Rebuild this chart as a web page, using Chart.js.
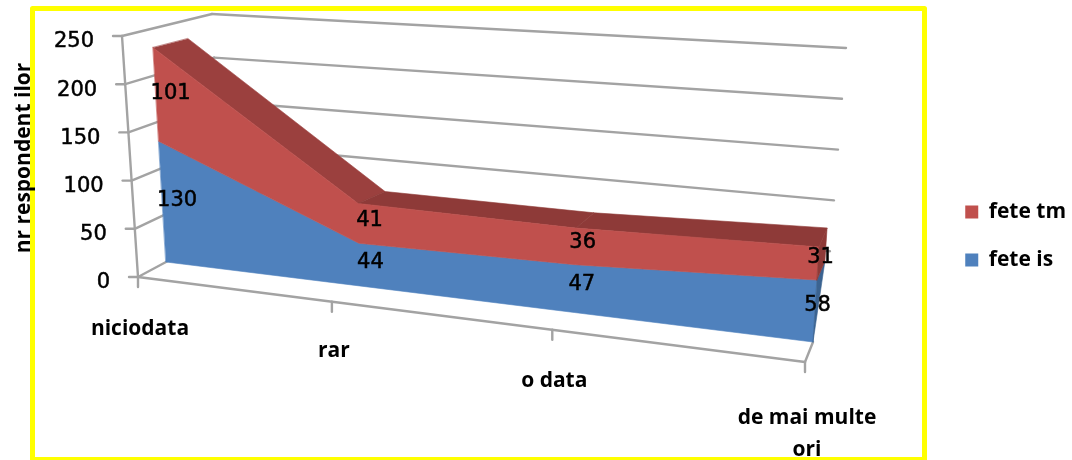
<!DOCTYPE html>
<html>
<head>
<meta charset="utf-8">
<style>
    html, body { margin: 0; padding: 0; background: #fff; }
    #wrap { width: 1072px; height: 460px; position: relative; overflow: hidden; }
    #chart { filter: blur(0.45px); }
</style>
<script src="https://cdn.jsdelivr.net/npm/chart.js@4"></script>
</head>
<body>
<div id="wrap"><canvas id="chart" width="1072" height="460"></canvas></div>
<script>
const categories = ['niciodata', 'rar', 'o data', ['de mai multe', 'ori']];
const feteIs = [130, 44, 47, 58];
const feteTm = [101, 41, 36, 31];
const yTicks = [0, 50, 100, 150, 200, 250];
const yMax = 250;

const FONT = '"DejaVu Sans"';
const BOLD = '"Open Sans"';
const GRID = '#a3a3a3';

// plans of the fake 3D box: floor edge, front of the areas, back of the areas, back wall
// lb/rb = left and right foot, lu/ru = vector for a full axis height, k = perspective
const planes = [
    {lb: [138, 277], rb: [805, 362], lu: [-16, -241], ru: [10, -260], k: 1.22},
    {lb: [166, 262], rb: [813, 342], lu: [-14, -232], ru: [17, -267], k: 1.17},
    {lb: [201, 253], rb: [821, 323], lu: [-14, -232], ru: [17, -267], k: 1.17},
    {lb: [222, 232], rb: [826, 302], lu: [-10, -218], ru: [20, -254], k: 1.17}
];
// distance from the floor tick down to the category label
const labelDrop = [52, 49, 51, 56];

function lerp(a, b, t) {
    return a + (b - a) * t;
}

function onPlane(p, t, v, key) {
    const tp = t / (t + (1 - t) * p.k);
    return lerp(p.lb[key], p.rb[key], tp) + v * lerp(p.lu[key], p.ru[key], tp);
}

// t and v are 0..1 fractions of the x and y scales, d is a (maybe fractional) plane index
function project(t, v, d) {
    const i = Math.min(Math.floor(d), planes.length - 2);
    const f = d - i;
    return {
        x: lerp(onPlane(planes[i], t, v, 0), onPlane(planes[i + 1], t, v, 0), f),
        y: lerp(onPlane(planes[i], t, v, 1), onPlane(planes[i + 1], t, v, 1), f)
    };
}

function poly(ctx, pts, color) {
    ctx.beginPath();
    pts.forEach((p, i) => i ? ctx.lineTo(p.x, p.y) : ctx.moveTo(p.x, p.y));
    ctx.closePath();
    ctx.fillStyle = color;
    ctx.strokeStyle = color;
    ctx.lineWidth = 0.6;
    ctx.fill();
    ctx.stroke();
}

function seg(ctx, a, b) {
    ctx.beginPath();
    ctx.moveTo(a.x, a.y);
    ctx.lineTo(b.x, b.y);
    ctx.stroke();
}

function heavyText(ctx, text, x, y) {
    ctx.strokeText(text, x, y);
    ctx.fillText(text, x, y);
}

const fake3d = {
    id: 'fake3d',
    beforeDraw(chart) {
        const ctx = chart.ctx;
        ctx.save();
        ctx.strokeStyle = '#ffff00';
        ctx.lineWidth = 5;
        ctx.lineJoin = 'round';
        ctx.strokeRect(32.5, 8.5, 892, 451);
        ctx.restore();
    },
    beforeDatasetsDraw(chart) {
        const ctx = chart.ctx;
        const xs = chart.scales.x, ys = chart.scales.y;
        const tOf = i => (xs.getPixelForValue(i) - xs.left) / xs.width;
        const vOf = val => (ys.bottom - ys.getPixelForValue(val)) / ys.height;
        // stacked tops come from the library's own point elements
        const top = (k, i) => k < 0 ? 0 : (ys.bottom - chart.getDatasetMeta(k).data[i].y) / ys.height;
        const n = categories.length;

        ctx.save();
        ctx.lineCap = 'round';

        // walls
        ctx.strokeStyle = GRID;
        ctx.lineWidth = 2.4;
        yTicks.forEach(val => {
            const v = vOf(val);
            const f = project(0, v, 0);
            seg(ctx, {x: f.x - 9, y: f.y}, f);
            seg(ctx, f, project(0, v, 3));
            seg(ctx, project(0, v, 3), project(1, v, 3));
        });
        seg(ctx, project(0, 0, 0), project(0, 1, 0));
        seg(ctx, project(0, 0, 0), project(1, 0, 0));
        seg(ctx, project(1, 0, 0), project(1, 0, 1));
        for (let i = 0; i < n; i++) {
            const p = project(tOf(i), 0, 0);
            seg(ctx, p, {x: p.x, y: p.y + 10});
        }

        // top ribbon of the upper area
        for (let i = 0; i < n - 1; i++) {
            const a = tOf(i), b = tOf(i + 1);
            poly(ctx, [project(a, top(1, i), 1), project(b, top(1, i + 1), 1),
                project(b, top(1, i + 1), 2), project(a, top(1, i), 2)], i === 0 ? '#9b403e' : '#8e3a38');
        }

        // front faces
        [0, 1].forEach(k => {
            const pts = [];
            for (let i = 0; i < n; i++) pts.push(project(tOf(i), top(k, i), 1));
            for (let i = n - 1; i >= 0; i--) pts.push(project(tOf(i), top(k - 1, i), 1));
            poly(ctx, pts, chart.data.datasets[k].backgroundColor);
        });

        // right end
        poly(ctx, [project(1, 0, 1), project(1, top(0, n - 1), 2), project(1, top(0, n - 1), 1)], '#3b6391');
        poly(ctx, [project(1, top(0, n - 1), 1), project(1, top(0, n - 1), 2),
            project(1, top(1, n - 1), 2), project(1, top(1, n - 1), 1)], '#8e3a38');
        ctx.restore();
    },
    afterDatasetsDraw(chart) {
        const ctx = chart.ctx;
        const xs = chart.scales.x, ys = chart.scales.y;
        const tOf = i => (xs.getPixelForValue(i) - xs.left) / xs.width;
        const vOf = val => (ys.bottom - ys.getPixelForValue(val)) / ys.height;

        ctx.save();
        ctx.fillStyle = '#000';
        ctx.strokeStyle = '#000';
        ctx.lineWidth = 0.5;
        ctx.textBaseline = 'middle';

        // y tick labels follow the slanted axis
        ctx.textAlign = 'right';
        ctx.font = '21px ' + FONT;
        yTicks.forEach(val => {
            const p = project(0, vOf(val), 0);
            heavyText(ctx, String(val), p.x - 28, p.y + 6);
        });

        // values sit in the middle of each band, half way into the depth
        ctx.textAlign = 'center';
        [feteIs, feteTm].forEach((vals, k) => {
            const meta = chart.getDatasetMeta(k);
            vals.forEach((val, i) => {
                const topV = (ys.bottom - meta.data[i].y) / ys.height;
                const p = project(tOf(i), topV - vOf(val) / 2, 1.45);
                heavyText(ctx, String(val), p.x - 1, p.y + 3);
            });
        });

        // category labels
        ctx.font = 'bold 21px ' + BOLD;
        categories.forEach((c, i) => {
            const p = project(tOf(i), 0, 0);
            [].concat(c).forEach((line, j) => ctx.fillText(line, p.x + 2, p.y + labelDrop[i] + j * 32));
        });

        // axis title
        ctx.translate(24, 158);
        ctx.rotate(-Math.PI / 2);
        ctx.fillText('nr respondent ilor', 0, 0);
        ctx.restore();
    }
};

new Chart(document.getElementById('chart'), {
    type: 'line',
    data: {
        labels: categories,
        datasets: [
            {label: 'fete is', data: feteIs, backgroundColor: '#4f81bd', borderColor: '#4f81bd', borderWidth: 0, pointRadius: 0, showLine: false},
            {label: 'fete tm', data: feteTm, backgroundColor: '#c0504d', borderColor: '#c0504d', borderWidth: 0, pointRadius: 0, showLine: false}
        ]
    },
    options: {
        responsive: false,
        animation: false,
        layout: {padding: {top: 12, right: -4}},
        scales: {
            x: {display: false, offset: false},
            y: {display: false, stacked: true, min: 0, max: yMax}
        },
        plugins: {
            tooltip: {enabled: false},
            legend: {
                position: 'right',
                reverse: true,
                labels: {
                    boxWidth: 13,
                    boxHeight: 13,
                    padding: 27,
                    color: '#000',
                    font: {family: BOLD, size: 21, weight: 'bold'}
                }
            }
        }
    },
    plugins: [fake3d]
});
</script>
</body>
</html>
